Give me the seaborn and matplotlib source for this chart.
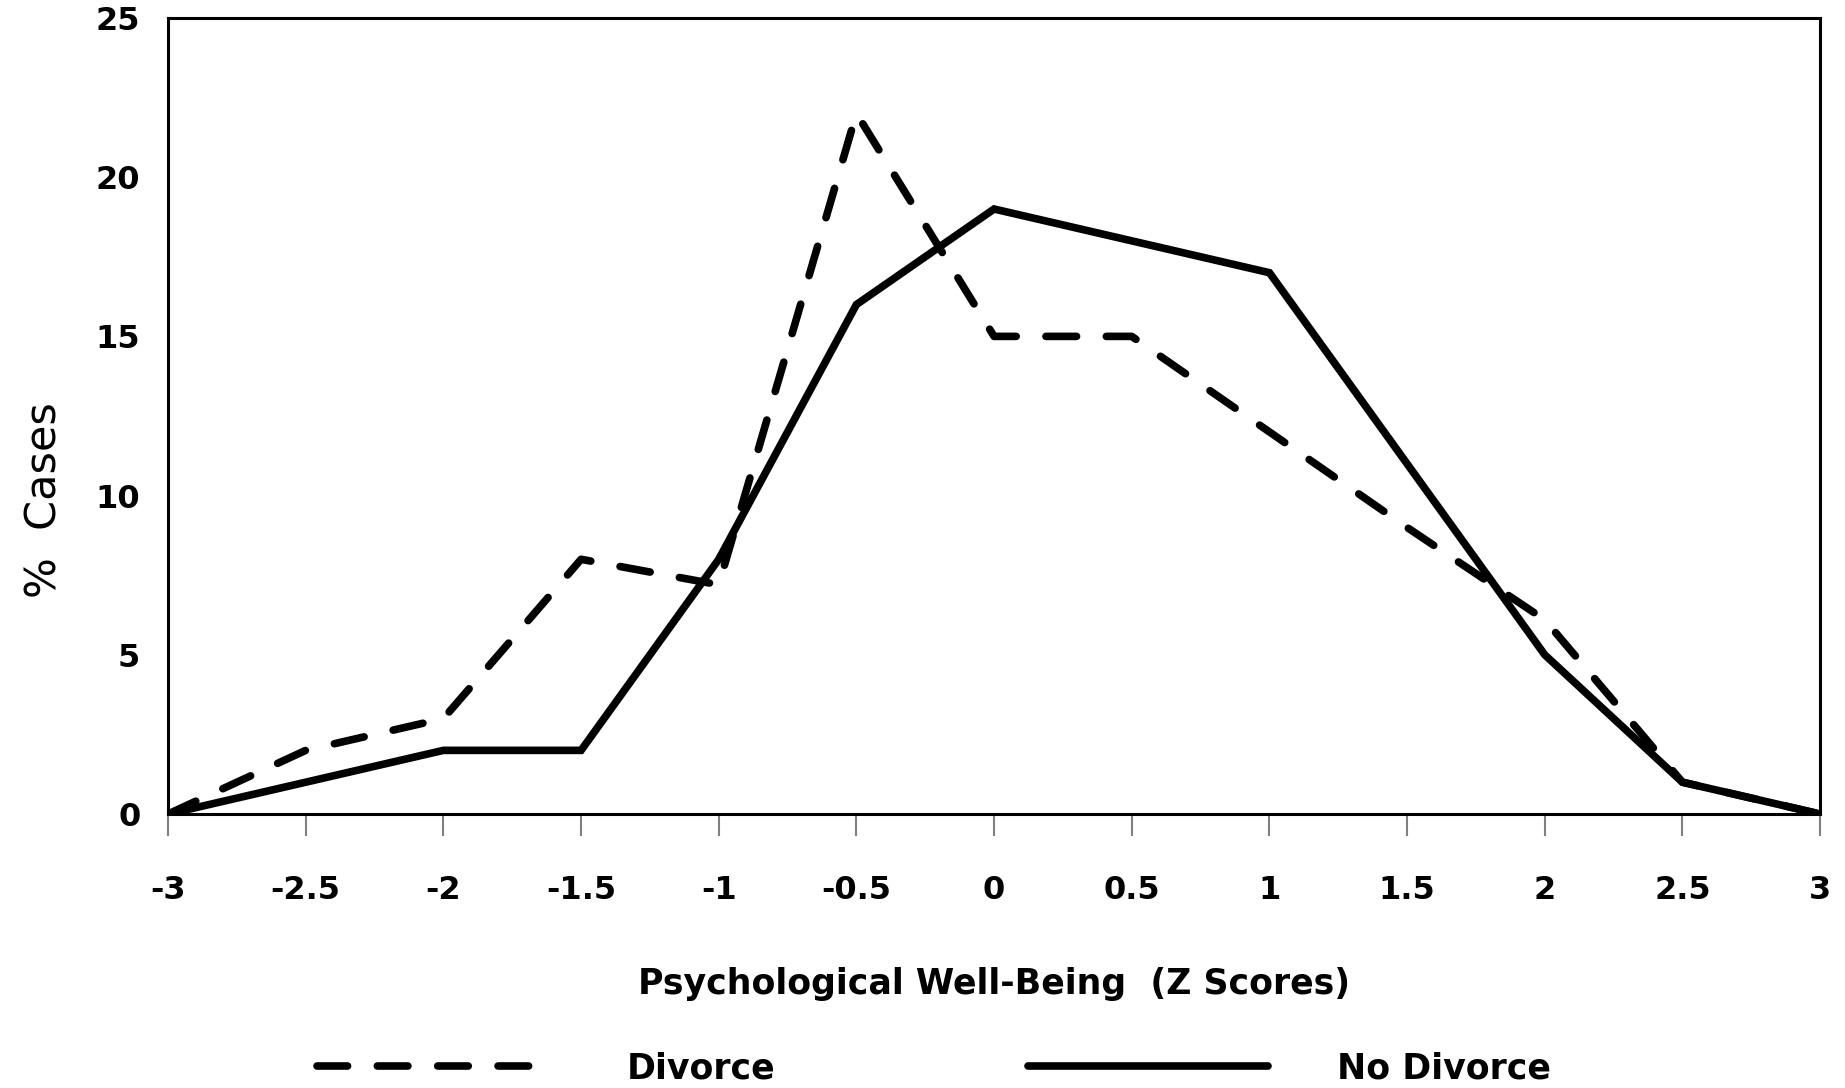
"""
Psychological well-being distribution: divorce vs no divorce
"""
import numpy as np
import pandas as pd
import matplotlib.pyplot as plt
import seaborn as sns

# values
z_scores = [-3, -2.5, -2, -1.5, -1, -0.5, 0, 0.5, 1, 1.5, 2, 2.5, 3]
divorce = [0, 2, 3, 8, 7.2, 22, 15, 15, 12, 9, 6.1, 1, 0]
no_divorce = [0, 1, 2, 2, 8, 16, 19, 18, 17, 11, 5, 1, 0]

x_ticks = [-3, -2.5, -2, -1.5, -1, -0.5, 0, 0.5, 1, 1.5, 2, 2.5, 3]
x_tick_labels = ['-3', '-2.5', '-2', '-1.5', '-1', '-0.5', '0', '0.5', '1', '1.5', '2', '2.5', '3']
y_ticks = [0, 5, 10, 15, 20, 25]

df = pd.DataFrame({
    'z': z_scores * 2,
    'pct': divorce + no_divorce,
    'group': ['Divorce'] * len(z_scores) + ['No Divorce'] * len(z_scores),
})

sns.set_style('white')
plt.rcParams['font.family'] = ['DejaVu Sans']
plt.rcParams['axes.unicode_minus'] = False
plt.rcParams['text.color'] = 'black'
plt.rcParams['axes.labelcolor'] = 'black'

fig = plt.figure(figsize=(18.45, 10.88), dpi=100)
ax = fig.add_axes([0.0911, 0.2518, 0.8954, 0.7317])

sns.lineplot(data=df, x='z', y='pct', style='group', color='black',
             dashes={'Divorce': (4.0, 3.9), 'No Divorce': ''},
             linewidth=5.5, dash_capstyle='round', solid_capstyle='round',
             solid_joinstyle='miter', ax=ax, legend=False)

ax.set_xlim(-3, 3)
ax.set_ylim(0, 25)
ax.set_xticks(x_ticks)
ax.set_xticklabels(x_tick_labels)
ax.set_yticks(y_ticks)

for s in ax.spines.values():
    s.set_color('black')
    s.set_linewidth(2.2)
    s.set_visible(True)

ax.tick_params(axis='x', direction='out', length=16, width=1.5, color='#808080',
               labelcolor='black', labelsize=23, pad=28, bottom=True)
ax.tick_params(axis='y', length=0, labelsize=23, labelcolor='black', pad=20, left=True)
for lab in ax.get_xticklabels() + ax.get_yticklabels():
    lab.set_fontweight('bold')

ax.set_xlabel('Psychological Well-Being  (Z Scores)', fontsize=25,
              fontweight='bold', labelpad=44)
ax.set_ylabel('%  Cases', fontsize=31)
ax.yaxis.set_label_coords(-0.062, 0.394)

# legend below the x label
handles = ax.get_lines()[:2]
fig.legend(handles, ['Divorce', 'No Divorce'], loc='center left',
           bbox_to_anchor=(0.172, 0.018), ncol=2, frameon=False,
           prop={'size': 25, 'weight': 'bold'}, handlelength=6.9,
           handletextpad=2.0, columnspacing=7.3, borderpad=0, borderaxespad=0)

plt.savefig('out.png', dpi=100)
